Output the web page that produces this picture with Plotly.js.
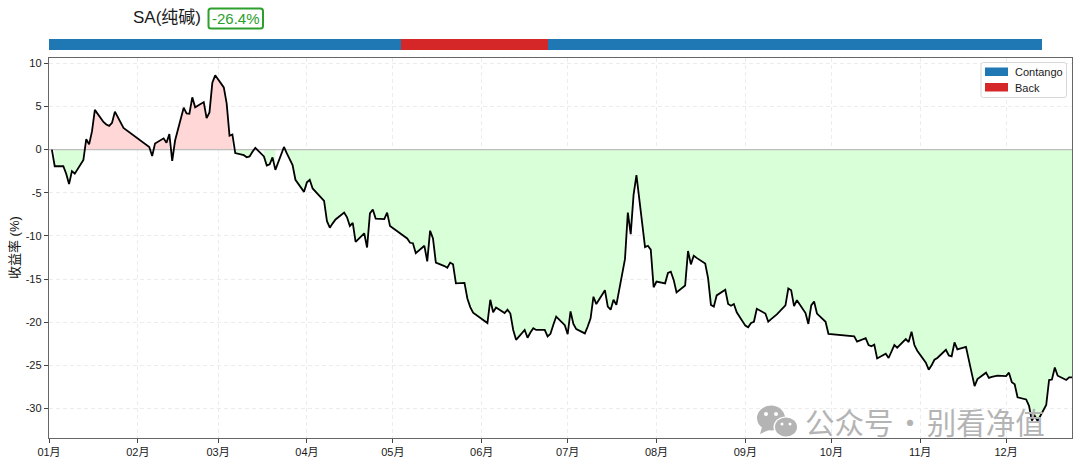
<!DOCTYPE html>
<html><head><meta charset="utf-8">
<script src="https://cdn.plot.ly/plotly-3.0.1.min.js"></script>
<style>html,body{margin:0;padding:0;background:#fff}#c{width:1080px;height:464px}</style>
</head><body><div id="c"></div>
<script>
const dates = ["2025-01-02","2025-01-03","2025-01-06","2025-01-07","2025-01-08","2025-01-09","2025-01-10","2025-01-13","2025-01-14","2025-01-15","2025-01-16","2025-01-17","2025-01-20","2025-01-21","2025-01-22","2025-01-23","2025-01-24","2025-01-27",
"2025-02-05","2025-02-06","2025-02-07","2025-02-10","2025-02-11","2025-02-12","2025-02-13","2025-02-14","2025-02-17","2025-02-18","2025-02-19","2025-02-20","2025-02-21","2025-02-24","2025-02-25","2025-02-26","2025-02-27","2025-02-28",
"2025-03-03","2025-03-04","2025-03-05","2025-03-06","2025-03-07","2025-03-10","2025-03-11","2025-03-12","2025-03-13","2025-03-14","2025-03-17","2025-03-18","2025-03-19","2025-03-20","2025-03-21","2025-03-24","2025-03-25","2025-03-26","2025-03-27","2025-03-28","2025-03-31",
"2025-04-01","2025-04-02","2025-04-03","2025-04-07","2025-04-08","2025-04-09","2025-04-10","2025-04-11","2025-04-14","2025-04-15","2025-04-16","2025-04-17","2025-04-18","2025-04-21","2025-04-22","2025-04-23","2025-04-24","2025-04-25","2025-04-28","2025-04-29","2025-04-30",
"2025-05-06","2025-05-07","2025-05-08","2025-05-09","2025-05-12","2025-05-13","2025-05-14","2025-05-15","2025-05-16","2025-05-19","2025-05-20","2025-05-21","2025-05-22","2025-05-23","2025-05-26","2025-05-27","2025-05-28","2025-05-29","2025-05-30",
"2025-06-03","2025-06-04","2025-06-05","2025-06-06","2025-06-09","2025-06-10","2025-06-11","2025-06-12","2025-06-13","2025-06-16","2025-06-17","2025-06-18","2025-06-19","2025-06-20","2025-06-23","2025-06-24","2025-06-25","2025-06-26","2025-06-27","2025-06-30",
"2025-07-01","2025-07-02","2025-07-03","2025-07-04","2025-07-07","2025-07-08","2025-07-09","2025-07-10","2025-07-11","2025-07-14","2025-07-15","2025-07-16","2025-07-17","2025-07-18","2025-07-21","2025-07-22","2025-07-23","2025-07-24","2025-07-25","2025-07-28","2025-07-29","2025-07-30","2025-07-31",
"2025-08-01","2025-08-04","2025-08-05","2025-08-06","2025-08-07","2025-08-08","2025-08-11","2025-08-12","2025-08-13","2025-08-14","2025-08-15","2025-08-18","2025-08-19","2025-08-20","2025-08-21","2025-08-22","2025-08-25","2025-08-26","2025-08-27","2025-08-28","2025-08-29",
"2025-09-01","2025-09-02","2025-09-03","2025-09-04","2025-09-05","2025-09-08","2025-09-09","2025-09-10","2025-09-11","2025-09-12","2025-09-15","2025-09-16","2025-09-17","2025-09-18","2025-09-19","2025-09-22","2025-09-23","2025-09-24","2025-09-25","2025-09-26","2025-09-29","2025-09-30",
"2025-10-09","2025-10-10","2025-10-13","2025-10-14","2025-10-15","2025-10-16","2025-10-17","2025-10-20","2025-10-21","2025-10-22","2025-10-23","2025-10-24","2025-10-27","2025-10-28","2025-10-29","2025-10-30","2025-10-31",
"2025-11-03","2025-11-04","2025-11-05","2025-11-06","2025-11-07","2025-11-10","2025-11-11","2025-11-12","2025-11-13","2025-11-14","2025-11-17","2025-11-18","2025-11-19","2025-11-20","2025-11-21","2025-11-24","2025-11-25","2025-11-26","2025-11-27","2025-11-28",
"2025-12-01","2025-12-02","2025-12-03","2025-12-04","2025-12-05","2025-12-08","2025-12-09","2025-12-10","2025-12-11","2025-12-12","2025-12-15","2025-12-16","2025-12-17","2025-12-18","2025-12-19","2025-12-22","2025-12-23","2025-12-24"];
const returns = [0,-1.93,-1.93,-2.8,-4.0,-2.5,-2.8,-1.2,1.2,0.6,2.1,4.6,3.2,2.9,2.75,3.1,4.4,2.5,
0.3,-0.75,0.7,1.3,0.8,1.8,-1.3,1.05,4.85,4.2,4.15,6.05,4.9,5.5,3.65,4.3,7.75,8.6,
7.2,5.35,1.6,1.75,-0.4,-0.65,-0.9,-0.8,-0.25,0.2,-0.8,-1.85,-1.7,-0.9,-2.35,0.3,-0.45,-1.15,-1.8,-3.5,-4.9,
-3.8,-3.5,-4.5,-5.95,-8.3,-9.05,-8.55,-8.1,-7.3,-7.85,-8.85,-8.5,-10.7,-9.7,-11.35,-7.4,-6.95,-8.0,-8.05,-7.3,-8.85,
-10.3,-10.8,-10.85,-12.0,-11.15,-12.95,-9.4,-10.3,-13.1,-13.5,-13.7,-13.1,-13.3,-15.5,-15.45,-17.25,-18.25,-18.9,-19.15,
-20.1,-17.4,-18.85,-18.3,-18.95,-18.55,-19.0,-20.9,-22.05,-20.9,-21.8,-21.2,-20.7,-20.9,-20.9,-21.65,-21.35,-20.3,-19.35,-20.35,
-21.4,-18.75,-20.2,-20.8,-21.3,-20.5,-19.55,-17.05,-17.9,-16.3,-18.2,-18.55,-17.4,-18.0,-12.7,-7.3,-9.8,-5.25,-2.95,-11.3,-11.15,-11.6,-15.95,
-15.3,-15.5,-14.3,-14.15,-15.1,-16.55,-15.75,-11.75,-13.3,-12.3,-12.55,-13.2,-14.9,-18.0,-18.2,-16.9,-16.25,-17.9,-18.1,-17.9,-18.85,
-20.4,-20.6,-20.1,-19.95,-18.45,-19.0,-19.95,-19.65,-19.35,-19.1,-18.05,-16.1,-16.3,-18.15,-17.45,-18.95,-20.2,-18.05,-17.6,-19.0,-19.95,-21.35,
-21.65,-22.25,-21.85,-22.65,-22.8,-22.6,-24.2,-23.65,-24.15,-23.4,-22.65,-22.95,-21.95,-22.3,-21.1,-22.65,-23.3,
-24.7,-25.5,-25.0,-24.35,-24.15,-23.2,-23.85,-23.95,-22.35,-23.15,-22.85,-24.2,-25.9,-27.4,-26.6,-25.85,-26.45,-26.35,-26.25,-26.2,
-26.25,-25.85,-26.95,-27.2,-28.7,-28.95,-29.7,-31.4,-30.85,-31.45,-29.6,-26.7,-26.65,-25.25,-26.2,-26.7,-26.4,-26.4];
const monthTicks = ["2025-01-01","2025-02-01","2025-03-01","2025-04-01","2025-05-01","2025-06-01","2025-07-01","2025-08-01","2025-09-01","2025-10-01","2025-11-01","2025-12-01"];
const monthLabels = ["01月","02月","03月","04月","05月","06月","07月","08月","09月","10月","11月","12月"];
const yTicks = [10,5,0,-5,-10,-15,-20,-25,-30];
const regimeNames = ["Contango","Back","Contango"];
const regimeLengths = [84.4,35.2,118.4];
const regimeColors = {Contango:"#1f77b4",Back:"#d62728"};
const legendNames = ["Contango","Back"];
const titleText = "SA(纯碱)";
const badgeText = "-26.4%";
const watermark = "公众号\u200A·\u200A别看净值";

const W=1080,H=464, fx=p=>p/W, fy=p=>1-p/H;
const FONT='"Liberation Sans","Noto Sans CJK SC",sans-serif';
const traces=[];
// fills: only over runs of same-signed points, not interpolated at the crossings
function fillRuns(test,color){
  let run=[];
  const flush=()=>{ if(run.length>1) traces.push({x:run.map(i=>dates[i]),y:run.map(i=>returns[i]),type:'scatter',mode:'none',fill:'tozeroy',fillcolor:color,showlegend:false,hoverinfo:'skip'}); run=[]; };
  returns.forEach((v,i)=>{ if(test(v)) run.push(i); else flush(); });
  flush();
}
fillRuns(v=>v>0,'#ffd7d7');
fillRuns(v=>v<0,'#d9ffd9');
traces.push({x:["2025-01-01","2025-12-24"],y:[0,0],type:'scatter',mode:'lines',line:{color:'#bdbdbd',width:1.2},showlegend:false,hoverinfo:'skip'});
traces.push({x:dates,y:returns,type:'scatter',mode:'lines',line:{color:'#000',width:1.8},name:'SA',showlegend:false});
regimeNames.forEach((n,i)=>traces.push({type:'bar',orientation:'h',x:[regimeLengths[i]],y:['regime'],xaxis:'x2',yaxis:'y2',width:1,marker:{color:regimeColors[n],line:{width:0}},name:n,showlegend:false}));

const roundRect=(x0,y0,x1,y1,r)=>{
  const X=p=>fx(p).toFixed(5),Y=p=>fy(p).toFixed(5);
  return `M${X(x0+r)},${Y(y0)}L${X(x1-r)},${Y(y0)}Q${X(x1)},${Y(y0)} ${X(x1)},${Y(y0+r)}L${X(x1)},${Y(y1-r)}Q${X(x1)},${Y(y1)} ${X(x1-r)},${Y(y1)}L${X(x0+r)},${Y(y1)}Q${X(x0)},${Y(y1)} ${X(x0)},${Y(y1-r)}L${X(x0)},${Y(y0+r)}Q${X(x0)},${Y(y0)} ${X(x0+r)},${Y(y0)}Z`;
};
const P={xref:'paper',yref:'paper'};
const rect=(x0,y0,x1,y1,color)=>({...P,type:'rect',x0:fx(x0),x1:fx(x1),y0:fy(y1),y1:fy(y0),fillcolor:color,line:{width:0},layer:'above'});
const oval=(cx,cy,rx,ry,color)=>({...P,type:'circle',x0:fx(cx-rx),x1:fx(cx+rx),y0:fy(cy+ry),y1:fy(cy-ry),fillcolor:color,line:{width:0},layer:'above'});
const WM='#b4b4b4';
const shapes=[
 {...P,type:'path',path:roundRect(208.5,8.5,263,28.5,2.5),fillcolor:'#fff',line:{color:'#2ca02c',width:2},layer:'above'},
 {...P,type:'path',path:roundRect(981,62.5,1066.5,97.5,2.5),fillcolor:'rgba(255,255,255,0.9)',line:{color:'#d8d8d8',width:1},layer:'above'},
 rect(985,67.5,1008,76,regimeColors.Contango),
 rect(985,83,1008,91.5,regimeColors.Back),
 oval(771,418,14,12.5,WM),{...P,type:'path',path:`M${fx(762)},${fy(427)}L${fx(760)},${fy(434)}L${fx(769)},${fy(430)}Z`,fillcolor:WM,line:{width:0},layer:'above'},
 oval(786,427,12.5,10.5,'#fff'),oval(786,427,11,9.5,WM),
 oval(766,414,2,2,'#fff'),oval(776,414,2,2,'#fff'),oval(782,424,1.5,1.5,'#fff'),oval(790,424,1.5,1.5,'#fff')
];
const ann=(x,y,text,size,color,extra)=>({...P,x:fx(x),y:fy(y),text,showarrow:false,xanchor:'left',yanchor:'middle',font:{family:FONT,size,color},...extra});
const annotations=[
 ann(131,17,titleText,17,'#1a1a1a'),
 ann(210,18.5,badgeText,15,'#2ca02c'),
 ann(1013,72,legendNames[0],11,'#1a1a1a'),
 ann(1013,87.5,legendNames[1],11,'#1a1a1a'),
 ann(802.5,421,watermark,29.5,WM,{font:{family:'"Noto Sans CJK SC",sans-serif',size:29.5,color:WM}}),
 ann(15,248,'收益率 (%)',13,'#111',{xanchor:'center',textangle:-90})
];
const layout={
 width:W,height:H,margin:{l:0,r:0,t:0,b:0},paper_bgcolor:'#fff',plot_bgcolor:'#fff',
 font:{family:FONT,size:11,color:'#1a1a1a'},barmode:'stack',showlegend:false,
 xaxis:{type:'date',domain:[fx(49),fx(1072)],range:["2025-01-01","2025-12-24"],anchor:'y',tickmode:'array',tickvals:monthTicks,ticktext:monthLabels,
   ticks:'outside',ticklen:4,tickcolor:'#444',tickfont:{size:11,color:'#1a1a1a'},showgrid:true,gridcolor:'#ececec',griddash:'4px,3px',gridwidth:1,showline:true,linecolor:'#666',linewidth:1.2,mirror:true,zeroline:false},
 yaxis:{domain:[1-438/H,1-58/H],range:[-33.42,10.61],anchor:'x',tickmode:'array',tickvals:yTicks,ticktext:yTicks.map(String),
   ticks:'outside',ticklen:4,tickcolor:'#444',tickfont:{size:11,color:'#1a1a1a'},showgrid:true,gridcolor:'#ececec',griddash:'4px,3px',gridwidth:1,showline:true,linecolor:'#666',linewidth:1.2,mirror:true,zeroline:false},
 xaxis2:{domain:[fx(49),fx(1042)],range:[0,regimeLengths.reduce((a,b)=>a+b,0)],anchor:'y2',visible:false,fixedrange:true},
 yaxis2:{domain:[1-50.3/H,1-38.7/H],anchor:'x2',visible:false,type:'category',fixedrange:true},
 shapes,annotations
};
Plotly.newPlot('c',traces,layout,{displayModeBar:false,staticPlot:true});
</script></body></html>
